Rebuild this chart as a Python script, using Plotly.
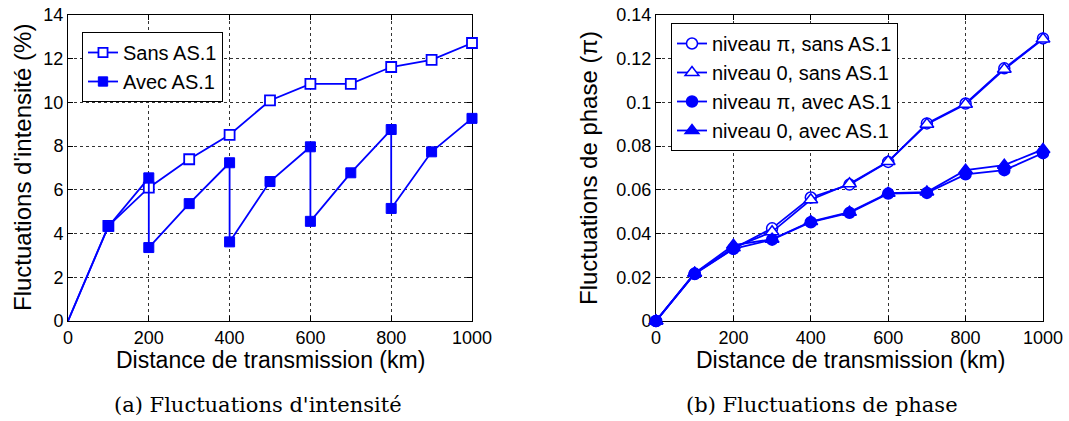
import plotly.graph_objects as go

# ---------------- data ----------------
distance = [0, 100, 200, 300, 400, 500, 600, 700, 800, 900, 1000]

# (a) intensity fluctuations (%)
sans_as1 = [0, 4.35, 6.10, 7.40, 8.52, 10.09, 10.85, 10.85, 11.62, 11.95, 12.72]
avec_x = [0, 100, 200, 200, 300, 400, 400, 500, 600, 600, 700, 800, 800, 900, 1000]
avec_as1 = [0, 4.33, 6.55, 3.36, 5.37, 7.24, 3.62, 6.38, 7.97, 4.56, 6.78, 8.76, 5.15, 7.74, 9.27]

# (b) phase fluctuations (pi)
pi_sans = [0, 0.0217, 0.0331, 0.0424, 0.0565, 0.0624, 0.0728, 0.0904, 0.0995, 0.1156, 0.1293]
zero_sans = [0, 0.0219, 0.0335, 0.0408, 0.0555, 0.0628, 0.0730, 0.0900, 0.0992, 0.1152, 0.1290]
pi_avec = [0, 0.0215, 0.0330, 0.0372, 0.0452, 0.0495, 0.0583, 0.0586, 0.0671, 0.0690, 0.0768]
zero_avec = [0, 0.0219, 0.0347, 0.0374, 0.0455, 0.0498, 0.0585, 0.0590, 0.0690, 0.0713, 0.0785]

x_ticks = [0, 200, 400, 600, 800, 1000]
labels_a = ["Sans AS.1", "Avec AS.1"]
labels_b = ["niveau \u03c0, sans AS.1", "niveau 0, sans AS.1",
            "niveau \u03c0, avec AS.1", "niveau 0, avec AS.1"]
xtitle = "Distance de transmission (km)"
ytitle_a = "Fluctuations d'intensit\u00e9 (%)"
ytitle_b = "Fluctuations de phase (\u03c0)"
caption_a = "(a) Fluctuations d'intensit\u00e9"
caption_b = "(b) Fluctuations de phase"

# ---------------- style ----------------
BLUE = "#0000FF"
SANS = "Liberation Sans, Arial, sans-serif"
SERIF = "DejaVu Serif, serif"
W, H = 1069, 421


def px_x(p):
    return p / W


def px_y(p):
    return 1 - p / H


fig = go.Figure()

# (a)
sizes_a = [0] + [10] * (len(distance) - 1)
fig.add_trace(go.Scatter(
    x=distance, y=sans_as1, name=labels_a[0], mode="lines+markers",
    line=dict(color=BLUE, width=1.8),
    marker=dict(symbol="square", size=sizes_a, color="white", opacity=1,
                line=dict(color=BLUE, width=1.8)),
    xaxis="x", yaxis="y", legend="legend", cliponaxis=False))
sizes_a2 = [0] + [10] * (len(avec_x) - 1)
fig.add_trace(go.Scatter(
    x=avec_x, y=avec_as1, name=labels_a[1], mode="lines+markers",
    line=dict(color=BLUE, width=1.8),
    marker=dict(symbol="square", size=sizes_a2, color=BLUE, opacity=1,
                line=dict(color=BLUE, width=1)),
    xaxis="x", yaxis="y", legend="legend", cliponaxis=False))

# (b)
series_b = [
    (pi_sans, "circle", "white"),
    (zero_sans, "triangle-up", "white"),
    (pi_avec, "circle", BLUE),
    (zero_avec, "triangle-up", BLUE),
]
for (vals, sym, fill), name in zip(series_b, labels_b):
    fig.add_trace(go.Scatter(
        x=distance, y=vals, name=name, mode="lines+markers",
        line=dict(color=BLUE, width=1.8),
        marker=dict(symbol=sym, size=11 if sym == "circle" else 12, color=fill, opacity=1,
                    line=dict(color=BLUE, width=1.5)),
        xaxis="x2", yaxis="y2", legend="legend2", cliponaxis=False))

axis_common = dict(
    showline=True, linecolor="black", linewidth=1, mirror="ticks",
    ticks="inside", ticklen=5, tickcolor="black", tickwidth=1,
    showgrid=True, gridcolor="#333333", griddash="dot", gridwidth=1,
    zeroline=False, layer="below traces", automargin=False,
    tickfont=dict(family=SANS, size=18, color="black"),
)

legend_common = dict(
    xanchor="left", yanchor="top",
    bgcolor="white", bordercolor="black", borderwidth=1,
    font=dict(family=SANS, size=20, color="black"),
    tracegroupgap=0, itemwidth=30,
)

ydom = [px_y(321), px_y(15)]
fig.update_layout(
    width=W, height=H,
    margin=dict(l=0, r=0, t=0, b=0, autoexpand=False),
    paper_bgcolor="white", plot_bgcolor="white",
    font=dict(family=SANS, color="black"),
    xaxis=dict(domain=[px_x(68), px_x(472)], range=[0, 1000], tickvals=x_ticks,
               anchor="y", **axis_common),
    yaxis=dict(domain=ydom, range=[0, 14], dtick=2, anchor="x", **axis_common),
    xaxis2=dict(domain=[px_x(656), px_x(1043)], range=[0, 1000], tickvals=x_ticks,
                anchor="y2", **axis_common),
    yaxis2=dict(domain=ydom, range=[0, 0.14], dtick=0.02, anchor="x2", **axis_common),
    legend=dict(x=px_x(82), y=px_y(32), **legend_common),
    legend2=dict(x=px_x(671), y=px_y(23), **legend_common),
    showlegend=True,
)

annos = [
    dict(text=xtitle, x=px_x(270), y=px_y(360), size=23, family=SANS, angle=0),
    dict(text=xtitle, x=px_x(850), y=px_y(360), size=23, family=SANS, angle=0),
    dict(text=ytitle_a, x=px_x(22), y=px_y(168), size=24, family=SANS, angle=-90),
    dict(text=ytitle_b, x=px_x(588), y=px_y(168), size=24, family=SANS, angle=-90),
    dict(text=caption_a, x=px_x(258), y=px_y(405), size=21, family=SERIF, angle=0),
    dict(text=caption_b, x=px_x(822), y=px_y(405), size=21, family=SERIF, angle=0),
]
for a in annos:
    fig.add_annotation(text=a["text"], x=a["x"], y=a["y"], xref="paper", yref="paper",
                       xanchor="center", yanchor="middle", showarrow=False,
                       textangle=a["angle"],
                       font=dict(family=a["family"], size=a["size"], color="black"))

fig.write_html("out.html", config={"displayModeBar": False},
               post_script="document.body.style.margin='0px';document.body.style.overflow='hidden';")
